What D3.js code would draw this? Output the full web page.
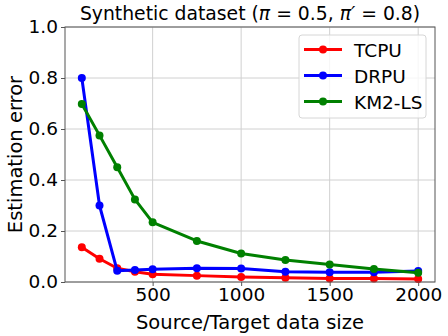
<!DOCTYPE html>
<html>
<head>
<meta charset="utf-8">
<script src="https://cdn.jsdelivr.net/npm/d3@7"></script>
<style>
  body { margin: 0; background: #fff; }
  text { font-family: 'DejaVu Sans', sans-serif; }
</style>
</head>
<body>
<svg id="mainsvg" width="448" height="336"></svg>
<script>
const sizes = [100, 200, 300, 400, 500, 750, 1000, 1250, 1500, 1750, 2000];
const tcpu = [0.136, 0.091, 0.054, 0.040, 0.030, 0.025, 0.020, 0.017, 0.014, 0.014, 0.012];
const drpu = [0.800, 0.300, 0.044, 0.047, 0.050, 0.054, 0.053, 0.040, 0.038, 0.038, 0.043];
const km2ls = [0.698, 0.575, 0.450, 0.324, 0.234, 0.161, 0.112, 0.086, 0.069, 0.051, 0.036];
const xTicks = [500, 1000, 1500, 2000];
const yTicks = [0, 0.2, 0.4, 0.6, 0.8, 1.0];

const series = [
  {name: 'TCPU', values: tcpu, color: '#ff0000'},
  {name: 'DRPU', values: drpu, color: '#0000ff'},
  {name: 'KM2-LS', values: km2ls, color: '#008000'}
];

const svg = d3.select('#mainsvg');
const margin = {top: 27, right: 13, bottom: 54, left: 65};
const width = +svg.attr('width');
const height = +svg.attr('height');
const innerWidth = width - margin.left - margin.right;
const innerHeight = height - margin.top - margin.bottom;

const g = svg.append('g')
  .attr('transform', `translate(${margin.left}, ${margin.top})`);

// matplotlib style 5% margin on x
const xScale = d3.scaleLinear().domain([5, 2095]).range([0, innerWidth]);
const yScale = d3.scaleLinear().domain([0, 1]).range([innerHeight, 0]);

// grid
g.append('g').selectAll('line').data(xTicks).join('line')
  .attr('x1', d => xScale(d)).attr('x2', d => xScale(d))
  .attr('y1', 0).attr('y2', innerHeight)
  .attr('stroke', '#d0d0d0').attr('stroke-width', 1);
g.append('g').selectAll('line').data(yTicks).join('line')
  .attr('y1', d => yScale(d)).attr('y2', d => yScale(d))
  .attr('x1', 0).attr('x2', innerWidth)
  .attr('stroke', '#d0d0d0').attr('stroke-width', 1);

// axes
const xAxis = d3.axisBottom(xScale).tickValues(xTicks).tickSize(4).tickPadding(2)
  .tickFormat(d3.format('d'));
const yAxis = d3.axisLeft(yScale).tickValues(yTicks).tickSize(4).tickPadding(3)
  .tickFormat(d3.format('.1f'));
const xg = g.append('g').attr('transform', `translate(0, ${innerHeight})`).call(xAxis);
const yg = g.append('g').call(yAxis);
[xg, yg].forEach(a => {
  a.select('.domain').remove();
  a.selectAll('.tick line').attr('stroke', '#555');
  a.selectAll('.tick text').attr('font-size', '18.5px').attr('fill', '#000');
});

// lines
const line = d3.line().x((d, i) => xScale(sizes[i])).y(d => yScale(d));
series.forEach(s => {
  g.append('path')
    .datum(s.values)
    .attr('d', line)
    .attr('fill', 'none')
    .attr('stroke', s.color)
    .attr('stroke-width', 3)
    .attr('stroke-linejoin', 'round');
  g.append('g').selectAll('circle').data(s.values).join('circle')
    .attr('cx', (d, i) => xScale(sizes[i]))
    .attr('cy', d => yScale(d))
    .attr('r', 4)
    .attr('fill', s.color);
});

// frame
g.append('rect')
  .attr('width', innerWidth).attr('height', innerHeight)
  .attr('fill', 'none').attr('stroke', '#555').attr('stroke-width', 1);

// legend
const lg = g.append('g').attr('transform', `translate(${299 - margin.left}, ${35 - margin.top})`);
lg.append('rect')
  .attr('width', 127).attr('height', 83).attr('rx', 3)
  .attr('fill', 'white').attr('fill-opacity', 0.8)
  .attr('stroke', '#d6d6d6');
series.forEach((s, i) => {
  const y = 14.5 + i * 26;
  lg.append('line')
    .attr('x1', 5).attr('x2', 43).attr('y1', y).attr('y2', y)
    .attr('stroke', s.color).attr('stroke-width', 3);
  lg.append('circle').attr('cx', 24).attr('cy', y).attr('r', 4).attr('fill', s.color);
  lg.append('text')
    .attr('x', 55).attr('y', y + 7)
    .attr('font-size', '18.5px')
    .text(s.name);
});

// title
const title = svg.append('text')
  .attr('x', margin.left + innerWidth / 2)
  .attr('y', 20)
  .attr('text-anchor', 'middle')
  .attr('font-size', '18.8px');
title.append('tspan').text('Synthetic dataset (');
title.append('tspan').attr('font-style', 'italic').text('π');
title.append('tspan').text(' = 0.5, ');
title.append('tspan').attr('font-style', 'italic').text('π′');
title.append('tspan').text(' = 0.8)');

// axis labels
svg.append('text')
  .attr('x', margin.left + innerWidth / 2)
  .attr('y', 329)
  .attr('text-anchor', 'middle')
  .attr('font-size', '19.5px')
  .text('Source/Target data size');

svg.append('text')
  .attr('transform', `translate(22, ${margin.top + innerHeight / 2}) rotate(-90)`)
  .attr('text-anchor', 'middle')
  .attr('font-size', '19.5px')
  .text('Estimation error');
</script>
</body>
</html>
